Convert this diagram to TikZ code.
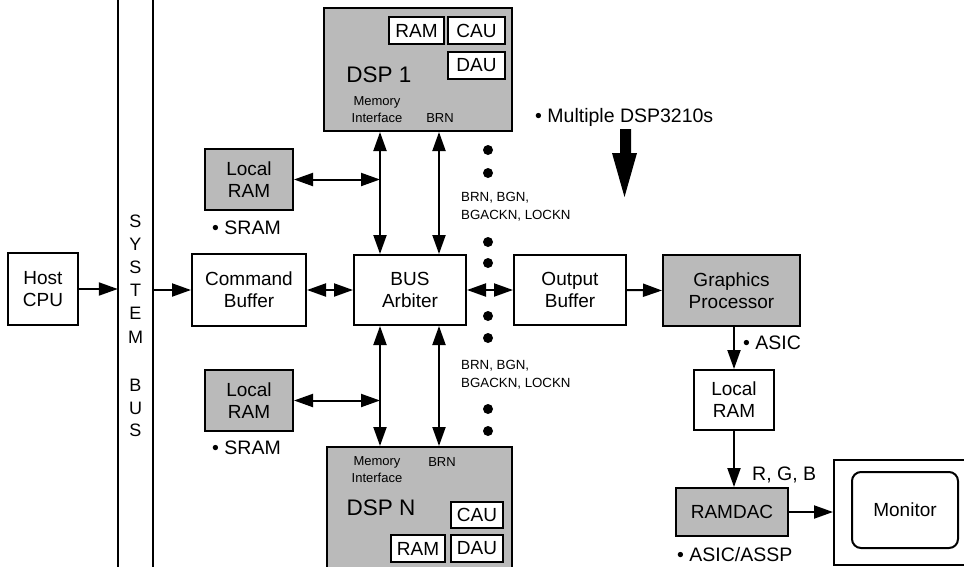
\documentclass[tikz,border=0pt]{standalone}
\usepackage{fontspec}
\setmainfont{Liberation Sans}
\usetikzlibrary{arrows.meta}
\tikzset{
  box/.style={draw, line width=2pt, minimum width=#1, inner sep=0pt, align=center,
    font=\fontsize{19}{22}\selectfont},
  shaded/.style={fill=black!27},
  chip/.style={draw, line width=2pt, fill=white, inner sep=0pt, font=\fontsize{19}{19}\selectfont},
  small/.style={inner sep=0pt, font=\fontsize{13}{13}\selectfont},
  lab/.style={inner sep=0pt, anchor=west, align=left, font=\fontsize{13.3}{18}\selectfont},
  blab/.style={inner sep=0pt, anchor=west, font=\fontsize{19.5}{20}\selectfont},
  conn/.style={line width=2pt, -{Triangle[length=19pt,width=13pt]}},
  dconn/.style={line width=2pt, {Triangle[length=19pt,width=13pt]}-{Triangle[length=19pt,width=13pt]}},
}
\begin{document}
\begin{tikzpicture}[x=1pt,y=-1pt]
\useasboundingbox (0,0) rectangle (964,566);
% system bus
\node[minimum width=35pt, minimum height=600pt, inner sep=0pt] (bus) at (135.5,283) {};
\draw[line width=2pt] (bus.north west) -- (bus.south west);
\draw[line width=2pt] (bus.north east) -- (bus.south east);
\foreach \l/\y in {S/221,Y/244,S/267,T/290,E/313,M/337,B/385,U/408,S/430}
  \node[inner sep=0pt, font=\fontsize{18}{18}\selectfont] at (135.5,\y) {\l};
% main boxes
\node[box=70pt, minimum height=72pt] (host) at (43,289) {Host\\CPU};
\node[box=114pt, minimum height=72pt] (cmd) at (249,290) {Command\\Buffer};
\node[box=112pt, minimum height=70pt] (arb) at (410,290) {BUS\\Arbiter};
\node[box=112pt, minimum height=70pt] (out) at (570,290) {Output\\Buffer};
\node[box=137pt, minimum height=71pt, shaded] (gp) at (731.5,290.5) {Graphics\\Processor};
\node[box=80pt, minimum height=60pt] (lram) at (734,400) {Local\\RAM};
\node[box=112pt, minimum height=48pt, shaded] (dac) at (732,512) {RAMDAC};
\node[box=200pt, minimum height=105pt] (monout) at (934,512.5) {};
\node[box=106pt, minimum height=76pt, rounded corners=9pt] (mon) at (905,510) {Monitor};
\node[box=88pt, minimum height=61pt, shaded] (lru) at (249,179.5) {Local\\RAM};
\node[box=88pt, minimum height=61pt, shaded] (lrd) at (249,400.5) {Local\\RAM};
% DSP 1
\node[box=188pt, minimum height=123pt, shaded] (dsp1) at (418,69.5) {};
\node[chip, minimum width=55pt, minimum height=27pt] (ram1) at (416.5,30.5) {RAM};
\node[chip, minimum width=57pt, minimum height=27pt] (cau1) at (476.5,30.5) {CAU};
\node[chip, minimum width=57pt, minimum height=27pt] (dau1) at (476.5,65.5) {DAU};
\node[inner sep=0pt, font=\fontsize{22.5}{22}\selectfont] (t1) at (379,75) {DSP 1};
\node[small] (m1) at (377,102) {Memory};
\node[small] (i1) at (377,118) {Interface};
\node[small] (b1) at (440,118) {BRN};
% DSP N
\node[box=185pt, minimum height=133pt, shaded] (dspn) at (419.5,513.5) {};
\node[chip, minimum width=52pt, minimum height=26pt] (caun) at (477,515) {CAU};
\node[chip, minimum width=54pt, minimum height=27pt] (ramn) at (418,548.5) {RAM};
\node[chip, minimum width=52pt, minimum height=27pt] (daun) at (477,548.5) {DAU};
\node[inner sep=0pt, font=\fontsize{22.5}{22}\selectfont] (tn) at (381,508) {DSP N};
\node[small] (mn) at (377,462) {Memory};
\node[small] (in) at (377,478) {Interface};
\node[small] (bn) at (442,462) {BRN};
% labels
\node[lab] (l1) at (461,207) {BRN, BGN,\\BGACKN, LOCKN};
\node[lab] (l2) at (461,375) {BRN, BGN,\\BGACKN, LOCKN};
\node[blab] (mul) at (535,117) {• Multiple DSP3210s};
\node[blab] (s1) at (212,228) {• SRAM};
\node[blab] (s2) at (212,448) {• SRAM};
\node[blab] (asic) at (743,343) {• ASIC};
\node[blab] (rgb) at (752,475) {R, G, B};
\node[blab] (assp) at (677,555) {• ASIC/ASSP};
% connectors
\coordinate (xa) at (380,0);
\coordinate (xb) at (439,0);
\draw[conn] (host.east) -- (host.east -| bus.west);
\draw[conn] (cmd.west -| bus.east) -- (cmd.west);
\draw[dconn] (cmd.east) -- (arb.west);
\draw[dconn] (arb.east) -- (out.west);
\draw[conn] (out.east) -- (gp.west);
\draw[conn] (gp.south -| lram.north) -- (lram.north);
\draw[conn] (lram.south) -- (lram.south |- dac.north);
\draw[conn] (dac.east) -- (dac.east -| monout.west);
\draw[dconn] (xa |- dsp1.south) -- (xa |- arb.north);
\draw[dconn] (xb |- dsp1.south) -- (xb |- arb.north);
\draw[dconn] (xa |- arb.south) -- (xa |- dspn.north);
\draw[dconn] (xb |- arb.south) -- (xb |- dspn.north);
\draw[dconn] (lru.east) -- (lru.east -| xa);
\draw[dconn] (lrd.east) -- (lrd.east -| xa);
% dots
\foreach \y in {150,173,242,263,316,338,409,431}
  \fill (488,\y) circle (5pt);
% big arrow
\fill (620,129) -- (631,129) -- (631,153) -- (637,153) -- (624.5,197) -- (612,153) -- (620,153) -- cycle;
\end{tikzpicture}
\end{document}
